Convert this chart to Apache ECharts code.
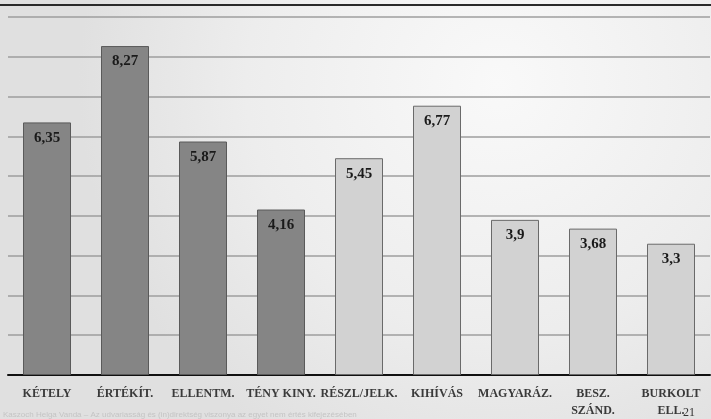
<!DOCTYPE html>
<html>
<head>
<meta charset="utf-8">
<script src="https://cdn.jsdelivr.net/npm/echarts@6/dist/echarts.min.js"></script>
<style>
  html, body { margin: 0; padding: 0; background: #e6e6e6; }
  #chart { width: 711px; height: 419px; }
</style>
</head>
<body>
<div id="chart"></div>
<script>
// Categories of disagreement strategies and their mean scores
const categories = ['KÉTELY', 'ÉRTÉKÍT.', 'ELLENTM.', 'TÉNY KINY.', 'RÉSZL/JELK.', 'KIHÍVÁS', 'MAGYARÁZ.', 'BESZ.\nSZÁND.', 'BURKOLT\nELL.'];
const values = [6.35, 8.27, 5.87, 4.16, 5.45, 6.77, 3.9, 3.68, 3.3];
// First four categories are drawn in the darker shade
const darkCount = 4;
const footnote = 'Kaszoch Helga Vanda – Az udvariasság és (in)direktség viszonya az egyet nem értés kifejezésében';
const pageNumber = '21';

const serif = '"Liberation Serif", "DejaVu Serif", serif';

const chart = echarts.init(document.getElementById('chart'));

chart.setOption({
  animation: false,
  backgroundColor: {
    type: 'radial', x: 0.7, y: 0.2, r: 1.0,
    colorStops: [
      { offset: 0, color: '#f9f9f9' },
      { offset: 0.6, color: '#ededed' },
      { offset: 1, color: '#e0e0e0' }
    ]
  },
  graphic: [
    { type: 'line', shape: { x1: 0, y1: 5, x2: 711, y2: 5 }, style: { stroke: '#2a2a2a', lineWidth: 2 }, z: 10 },
    { type: 'text', left: 3, top: 411, style: { text: footnote, font: '8px "Liberation Sans", sans-serif', fill: '#c4c4c4' } },
    { type: 'text', left: 683, top: 407, style: { text: pageNumber, font: '12px ' + serif, fill: '#333' }, z: 10 }
  ],
  grid: { left: 8, right: 1, top: 17, bottom: 42 },
  xAxis: {
    type: 'category',
    data: categories,
    axisLine: { lineStyle: { color: '#111', width: 2 } },
    axisTick: { show: false },
    axisLabel: {
      interval: 0,
      margin: 10,
      fontFamily: serif,
      fontWeight: 'bold',
      fontSize: 12,
      color: '#3a3a3a',
      lineHeight: 17
    }
  },
  yAxis: {
    type: 'value',
    min: 0,
    max: 9,
    interval: 1,
    axisLabel: { show: false },
    axisLine: { show: false },
    axisTick: { show: false },
    splitLine: { lineStyle: { color: '#9e9e9e', width: 1.5 } }
  },
  series: [{
    type: 'bar',
    barWidth: 48,
    data: values.map((v, i) => ({
      value: v,
      itemStyle: i < darkCount
        ? { color: '#858585', borderColor: '#5a5a5a', borderWidth: 1 }
        : { color: '#d2d2d2', borderColor: '#6a6a6a', borderWidth: 1 }
    })),
    label: {
      show: true,
      position: 'insideTop',
      distance: 8,
      formatter: p => String(p.value).replace('.', ','),
      fontFamily: serif,
      fontWeight: 'bold',
      fontSize: 15,
      color: '#1a1a1a'
    }
  }]
});
</script>
</body>
</html>
